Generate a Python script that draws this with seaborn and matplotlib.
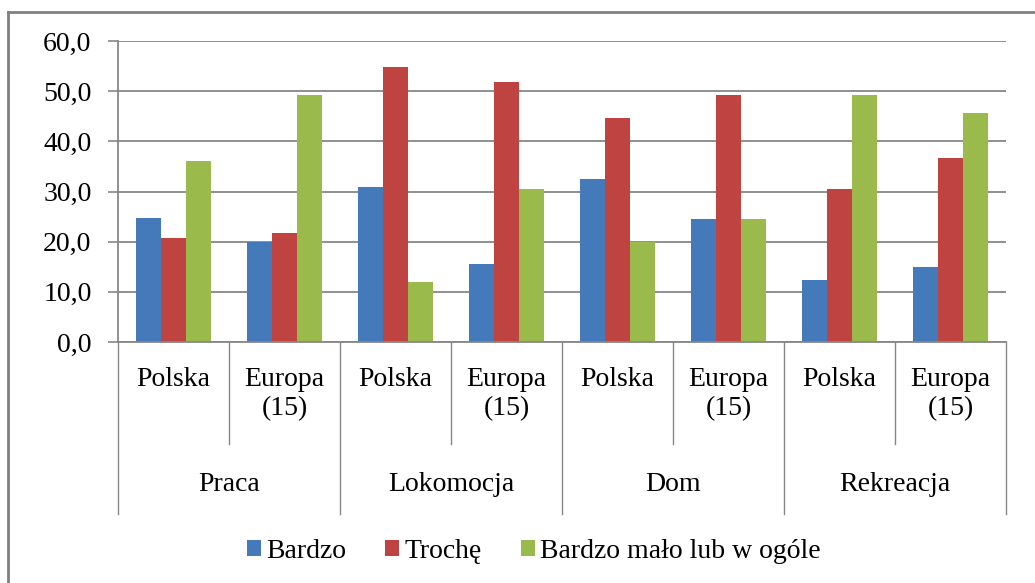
import pandas as pd
import numpy as np
import seaborn as sns
import matplotlib.pyplot as plt
from matplotlib.lines import Line2D
from matplotlib.ticker import FuncFormatter

# chart values
groups = ["Praca", "Lokomocja", "Dom", "Rekreacja"]
regions = ["Polska", "Europa\n(15)"]
series = ["Bardzo", "Trochę", "Bardzo mało lub w ogóle"]
bardzo = [24.8, 19.9, 30.9, 15.6, 32.5, 24.5, 12.3, 14.9]
troche = [20.7, 21.7, 54.9, 51.9, 44.7, 49.3, 30.4, 36.6]
malo = [36.0, 49.3, 12.0, 30.4, 19.9, 24.5, 49.3, 45.7]
colors = ["#4479BA", "#BE4341", "#9BBA4C"]

FONT = "Liberation Serif"
FS = 20

# long form table for seaborn
cats = [f"{g}|{r}" for g in groups for r in regions]
rows = []
for name, vals in zip(series, [bardzo, troche, malo]):
    for c, v in zip(cats, vals):
        rows.append({"cat": c, "series": name, "value": v})
df = pd.DataFrame(rows)

plt.rcParams['font.family'] = FONT

fig = plt.figure(figsize=(10.35, 5.83), dpi=100)
W, H = 1035, 583
ax = fig.add_axes([118 / W, 1 - 342 / H, (1006 - 118) / W, 301 / H])

sns.barplot(data=df, x="cat", y="value", hue="series", order=cats,
            hue_order=series, palette=colors, width=0.667, gap=0,
            linewidth=0, saturation=1, ax=ax, legend=True)

ax.set_ylim(0, 60)
ax.set_xlim(-0.5, len(cats) - 0.5)
ax.set_yticks(np.arange(0, 61, 10))
ax.yaxis.set_major_formatter(FuncFormatter(lambda v, p: f"{v:.1f}".replace(".", ",")))
ax.set_xticks([])
ax.set_xlabel("")
ax.set_ylabel("")
ax.yaxis.grid(True, color="#878787", linewidth=1.3)
ax.set_axisbelow(True)
ax.tick_params(axis="y", length=7, width=1.2, color="#878787", pad=12,
               labelsize=FS, left=True)
for side in ["top", "right"]:
    ax.spines[side].set_visible(False)
for side in ["left", "bottom"]:
    ax.spines[side].set_color("#878787")
    ax.spines[side].set_linewidth(1.3)

# two level category axis
tr = ax.get_xaxis_transform()
for i in range(len(cats) + 1):
    x = i - 0.5
    y_end = -0.571 if i % 2 == 0 else -0.339
    ax.add_line(Line2D([x, x], [0, y_end], transform=tr, color="#878787",
                       linewidth=1.0, clip_on=False))
for i, c in enumerate(cats):
    g, r = c.split("|")
    ax.text(i, -0.082, r, transform=tr, ha="center", va="top", fontsize=FS,
            family=FONT, linespacing=1.25)
for j, g in enumerate(groups):
    ax.text(2 * j + 0.5, -0.475, g, transform=tr, ha="center", va="center",
            fontsize=FS, family=FONT)

# legend below the chart
handles, labels = ax.get_legend_handles_labels()
ax.get_legend().remove()
fig.legend(handles, labels, loc="center", bbox_to_anchor=(534 / W, 1 - 551 / H),
           ncol=3, frameon=False, prop={"family": FONT, "size": FS},
           handlelength=0.5, handleheight=0.5, handletextpad=0.2,
           columnspacing=1.4)

# outer chart frame (top and left edges visible)
fig.add_artist(Line2D([8 / W, 1], [1 - 12 / H, 1 - 12 / H], transform=fig.transFigure,
                      color="#808080", linewidth=2))
fig.add_artist(Line2D([8 / W, 8 / W], [0, 1 - 12 / H], transform=fig.transFigure,
                      color="#808080", linewidth=2))

fig.savefig("out.png", dpi=100)
